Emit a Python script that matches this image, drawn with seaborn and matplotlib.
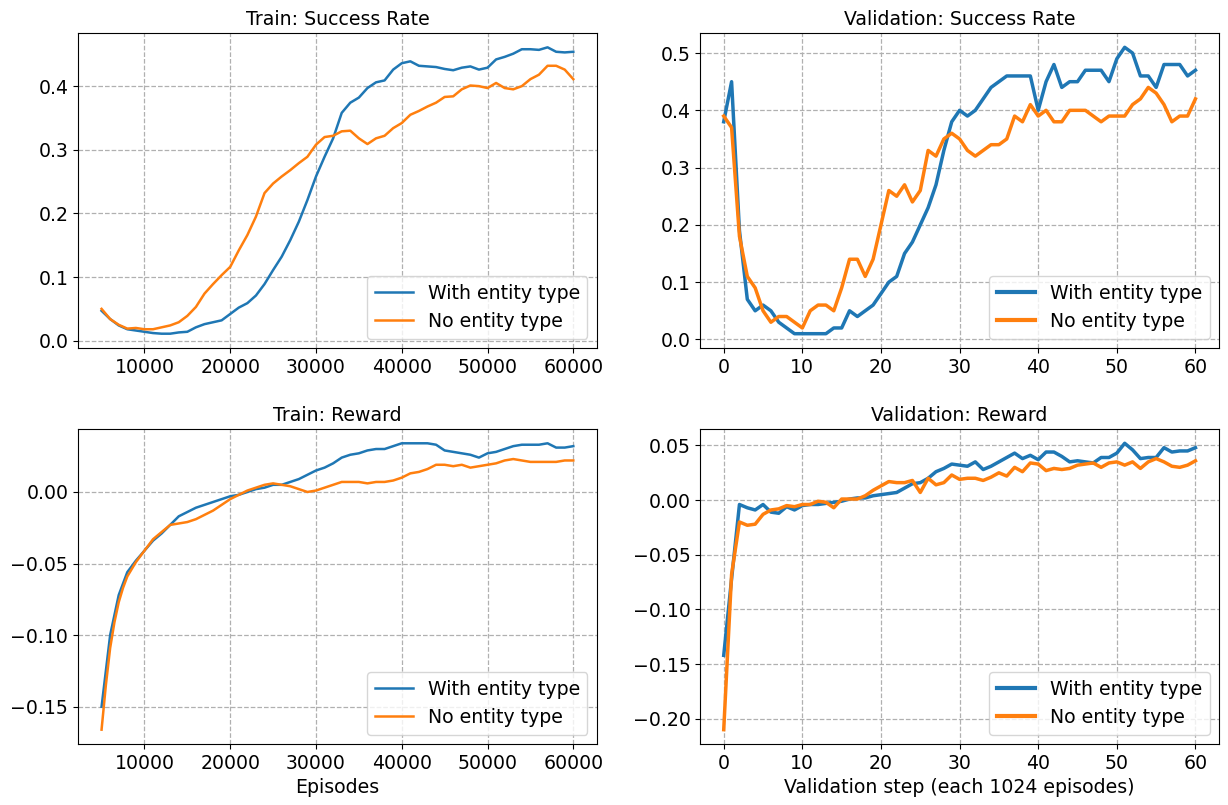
import numpy as np
import pandas as pd
import matplotlib
matplotlib.use("Agg")
import matplotlib.pyplot as plt
import seaborn as sns

# ---------------- data ----------------
series_names = ["With entity type", "No entity type"]

train_sr_episodes = list(range(5000, 60001, 1000))
train_sr_with = [0.047, 0.034, 0.024, 0.018, 0.016, 0.014, 0.012, 0.011, 0.011, 0.013,
                 0.014, 0.021, 0.026, 0.029, 0.032, 0.042, 0.052, 0.059, 0.071, 0.089,
                 0.111, 0.132, 0.158, 0.187, 0.221, 0.258, 0.289, 0.318, 0.358, 0.374,
                 0.382, 0.397, 0.406, 0.409, 0.426, 0.436, 0.439, 0.432, 0.431, 0.430,
                 0.427, 0.425, 0.429, 0.431, 0.426, 0.429, 0.442, 0.446, 0.451, 0.458,
                 0.458, 0.457, 0.461, 0.454, 0.453, 0.454]
train_sr_without = [0.050, 0.034, 0.025, 0.019, 0.020, 0.018, 0.018, 0.021, 0.024, 0.029,
                    0.039, 0.053, 0.074, 0.089, 0.103, 0.116, 0.142, 0.166, 0.195, 0.232,
                    0.247, 0.258, 0.268, 0.279, 0.289, 0.308, 0.320, 0.322, 0.329, 0.330,
                    0.318, 0.309, 0.318, 0.322, 0.334, 0.342, 0.355, 0.361, 0.368, 0.374,
                    0.383, 0.384, 0.395, 0.401, 0.400, 0.397, 0.405, 0.397, 0.395, 0.400,
                    0.411, 0.418, 0.432, 0.432, 0.426, 0.411]

train_rw_episodes = [5000, 5500, 6000, 6500, 7000, 7500, 8000] + list(range(9000, 60001, 1000))
train_rw_with = [-0.150, -0.125, -0.100, -0.086, -0.072, -0.064, -0.056,
                 -0.048, -0.041, -0.034, -0.029, -0.023, -0.017, -0.014, -0.011, -0.009,
                 -0.007, -0.005, -0.003, -0.002, 0.000, 0.002, 0.003, 0.005, 0.005,
                 0.007, 0.009, 0.012, 0.015, 0.017, 0.020, 0.024, 0.026, 0.027, 0.029,
                 0.030, 0.030, 0.032, 0.034, 0.034, 0.034, 0.034, 0.033, 0.029, 0.028,
                 0.027, 0.026, 0.024, 0.027, 0.028, 0.030, 0.032, 0.033, 0.033, 0.033,
                 0.034, 0.031, 0.031, 0.032]
train_rw_without = [-0.166, -0.135, -0.109, -0.091, -0.077, -0.067, -0.059,
                    -0.049, -0.041, -0.033, -0.028, -0.023, -0.022, -0.021, -0.019, -0.016,
                    -0.013, -0.009, -0.005, -0.002, 0.001, 0.003, 0.005, 0.006, 0.005,
                    0.004, 0.002, 0.000, 0.001, 0.003, 0.005, 0.007, 0.007, 0.007, 0.006,
                    0.007, 0.007, 0.008, 0.010, 0.013, 0.014, 0.016, 0.019, 0.019, 0.018,
                    0.019, 0.017, 0.018, 0.019, 0.020, 0.022, 0.023, 0.022, 0.021, 0.021,
                    0.021, 0.021, 0.022, 0.022]

val_steps = list(range(0, 61))
val_sr_with = [0.38, 0.45, 0.19, 0.07, 0.05, 0.06, 0.05, 0.03, 0.02, 0.01,
               0.01, 0.01, 0.01, 0.01, 0.02, 0.02, 0.05, 0.04, 0.05, 0.06,
               0.08, 0.10, 0.11, 0.15, 0.17, 0.20, 0.23, 0.27, 0.33, 0.38,
               0.40, 0.39, 0.40, 0.42, 0.44, 0.45, 0.46, 0.46, 0.46, 0.46,
               0.40, 0.45, 0.48, 0.44, 0.45, 0.45, 0.47, 0.47, 0.47, 0.45,
               0.49, 0.51, 0.50, 0.46, 0.46, 0.44, 0.48, 0.48, 0.48, 0.46, 0.47]
val_sr_without = [0.39, 0.37, 0.18, 0.11, 0.09, 0.05, 0.03, 0.04, 0.04, 0.03,
                  0.02, 0.05, 0.06, 0.06, 0.05, 0.09, 0.14, 0.14, 0.11, 0.14,
                  0.20, 0.26, 0.25, 0.27, 0.24, 0.26, 0.33, 0.32, 0.35, 0.36,
                  0.35, 0.33, 0.32, 0.33, 0.34, 0.34, 0.35, 0.39, 0.38, 0.41,
                  0.39, 0.40, 0.38, 0.38, 0.40, 0.40, 0.40, 0.39, 0.38, 0.39,
                  0.39, 0.39, 0.41, 0.42, 0.44, 0.43, 0.41, 0.38, 0.39, 0.39, 0.42]

val_rw_with = [-0.142, -0.072, -0.004, -0.007, -0.009, -0.004, -0.011, -0.012, -0.006, -0.009,
               -0.005, -0.004, -0.004, -0.003, -0.002, -0.001, 0.001, 0.002, 0.002, 0.004,
               0.005, 0.006, 0.007, 0.011, 0.015, 0.016, 0.020, 0.026, 0.029, 0.033,
               0.032, 0.031, 0.035, 0.028, 0.031, 0.035, 0.039, 0.043, 0.038, 0.041,
               0.037, 0.044, 0.044, 0.040, 0.035, 0.036, 0.035, 0.034, 0.039, 0.039,
               0.043, 0.052, 0.046, 0.038, 0.039, 0.039, 0.048, 0.044, 0.045, 0.045, 0.048]
val_rw_without = [-0.210, -0.068, -0.020, -0.023, -0.022, -0.013, -0.009, -0.008, -0.005, -0.006,
                  -0.004, -0.004, -0.001, -0.002, -0.007, 0.001, 0.001, 0.001, 0.004, 0.009,
                  0.013, 0.017, 0.016, 0.016, 0.018, 0.007, 0.020, 0.014, 0.016, 0.023,
                  0.019, 0.020, 0.020, 0.018, 0.021, 0.025, 0.022, 0.030, 0.026, 0.034,
                  0.033, 0.027, 0.029, 0.028, 0.029, 0.032, 0.033, 0.034, 0.030, 0.034,
                  0.035, 0.032, 0.035, 0.029, 0.035, 0.038, 0.035, 0.031, 0.030, 0.032, 0.036]

titles = ["Train: Success Rate", "Validation: Success Rate", "Train: Reward", "Validation: Reward"]
xlabels = ["", "", "Episodes", "Validation step (each 1024 episodes)"]


def long_df(x, a, b):
    return pd.DataFrame({
        "x": list(x) + list(x),
        "y": list(a) + list(b),
        "series": [series_names[0]] * len(a) + [series_names[1]] * len(b),
    })


panels = [
    (long_df(train_sr_episodes, train_sr_with, train_sr_without), 1.8),
    (long_df(val_steps, val_sr_with, val_sr_without), 2.5),
    (long_df(train_rw_episodes, train_rw_with, train_rw_without), 1.8),
    (long_df(val_steps, val_rw_with, val_rw_without), 2.5),
]

# ---------------- plot ----------------
FS = 13.6
plt.rcParams["font.family"] = ["DejaVu Sans"]
plt.rcParams["font.size"] = FS

fig, axes = plt.subplots(2, 2, figsize=(12.28, 8.05), dpi=100)
fig.subplots_adjust(left=0.0635, right=0.9927, top=0.959, bottom=0.0758,
                    wspace=0.199, hspace=0.257)

palette = {series_names[0]: "#1f77b4", series_names[1]: "#ff7f0e"}

for ax, (df, lw), title, xl in zip(axes.flat, panels, titles, xlabels):
    sns.lineplot(data=df, x="x", y="y", hue="series", palette=palette,
                 linewidth=lw, ax=ax, estimator=None, sort=False)
    ax.set_title(title, fontsize=FS)
    ax.set_xlabel(xl, fontsize=FS)
    ax.set_ylabel("")
    ax.grid(True, linestyle="--", color="#b0b0b0", linewidth=0.9)
    ax.tick_params(labelsize=FS)
    leg = ax.legend(loc="lower right", fontsize=FS)
    for line in leg.get_lines():
        line.set_linewidth(lw + 0.5 if lw > 2 else lw)

axes[0, 0].set_yticks([0.0, 0.1, 0.2, 0.3, 0.4])
axes[1, 0].set_yticks([-0.15, -0.10, -0.05, 0.00])
for ax in axes[:, 0]:
    ax.set_xticks([10000, 20000, 30000, 40000, 50000, 60000])
for ax in axes[:, 1]:
    ax.set_xticks([0, 10, 20, 30, 40, 50, 60])

fig.savefig("out.png", dpi=100)
